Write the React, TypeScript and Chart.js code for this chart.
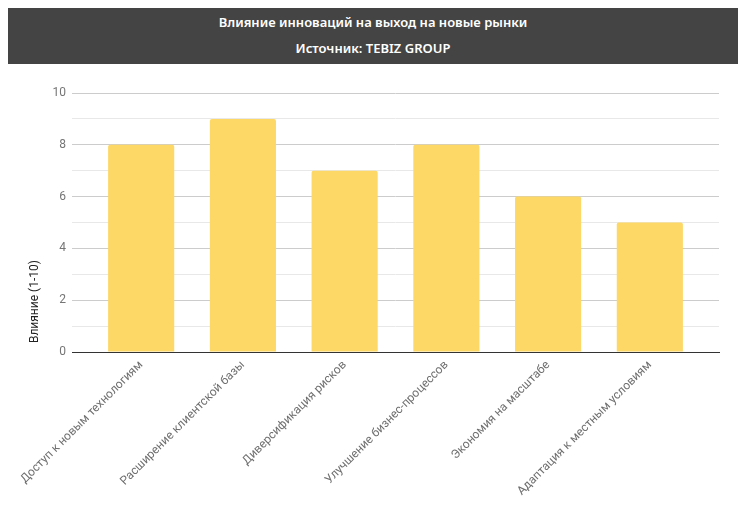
import React, { useEffect, useRef } from "react";
import { Chart, registerables } from "chart.js";

Chart.register(...registerables);

const titleLine1 = "Влияние инноваций на выход на новые рынки";
const titleLine2 = "Источник: TEBIZ GROUP";
const yAxisTitle = "Влияние (1-10)";

const categories = [
  "Доступ к новым технологиям",
  "Расширение клиентской базы",
  "Диверсификация рисков",
  "Улучшение бизнес-процессов",
  "Экономия на масштабе",
  "Адаптация к местным условиям",
];
const values = [8, 9, 7, 8, 6, 5];
const yMin = 0;
const yMax = 10;

export default function App() {
  const ref = useRef<HTMLCanvasElement | null>(null);

  useEffect(() => {
    let chart: Chart | null = null;
    let cancelled = false;
    const build = () => {
      if (cancelled || !ref.current) return;
      chart = new Chart(ref.current, {
        type: "bar",
        data: {
          datasets: [
            {
              label: yAxisTitle,
              data: values.map((v, i) => ({ x: i, y: v })),
              backgroundColor: "#FDD867",
              borderRadius: 2,
              categoryPercentage: 1,
              barPercentage: 0.65,
            },
          ],
        },
        options: {
          responsive: false,
          animation: false,
          devicePixelRatio: 1,
          layout: { padding: { top: 93, right: 27, left: 0, bottom: 0 } },
          plugins: { legend: { display: false }, tooltip: { enabled: false } },
          scales: {
            x: {
              type: "linear",
              offset: false,
              min: -0.68,
              max: categories.length - 1 + 0.68,
              afterBuildTicks: (s: any) => {
                s.ticks = categories.map((_, i) => ({ value: i }));
              },
              afterFit: (s: any) => {
                s.height = 164;
                s.paddingLeft = 0;
                s.paddingRight = 0;
              },
              grid: { display: false, drawTicks: false },
              border: { display: true, color: "#333333", width: 1 },
              ticks: {
                autoSkip: false,
                maxRotation: 45,
                minRotation: 45,
                padding: 6,
                color: "#6f6f6f",
                font: { family: "Roboto", size: 12 },
                callback: (v: any) => categories[Math.round(Number(v))] ?? "",
              },
            },
            y: {
              min: yMin,
              max: yMax,
              afterFit: (s: any) => {
                s.width = 72;
              },
              border: { display: false },
              grid: {
                drawTicks: false,
                color: (ctx: any) => {
                  const v = ctx.tick?.value;
                  if (v === 0) return "#333333";
                  return v % 2 === 0 ? "#cccccc" : "#e8e8e8";
                },
              },
              ticks: {
                stepSize: 1,
                padding: 6,
                color: "#757575",
                font: { family: "Roboto", size: 12 },
                callback: (v: any) => (Number(v) % 2 === 0 ? String(v) : ""),
              },
              title: {
                display: true,
                text: "   " + yAxisTitle,
                align: "start",
                color: "#222222",
                font: { family: "Roboto", size: 12 },
                padding: { top: 28, bottom: 0 },
              },
            },
          },
        },
      });
    };
    const fonts: any = (document as any).fonts;
    if (fonts && fonts.load) {
      Promise.all([fonts.load("12px Roboto"), fonts.load("600 13px 'Noto Sans'")])
        .catch(() => null)
        .then(build);
    } else {
      build();
    }
    return () => {
      cancelled = true;
      if (chart) chart.destroy();
    };
  }, []);

  return (
    <div style={{ position: "relative", width: 746, height: 516, margin: -8, background: "#fff" }}>
      <canvas ref={ref} width={746} height={516} style={{ position: "absolute", left: 0, top: 0 }} />
      <div
        style={{
          position: "absolute",
          left: 5,
          top: 8,
          width: 736,
          height: 56,
          background: "#444444",
          color: "#ffffff",
          fontFamily: "'Noto Sans', sans-serif",
          fontWeight: 600,
          fontSize: 13,
          textAlign: "center",
        }}
      >
        <div style={{ position: "absolute", left: 0, right: 0, top: 5, lineHeight: "18px" }}>{titleLine1}</div>
        <div style={{ position: "absolute", left: 0, right: 0, top: 31, lineHeight: "18px" }}>{titleLine2}</div>
      </div>
    </div>
  );
}
